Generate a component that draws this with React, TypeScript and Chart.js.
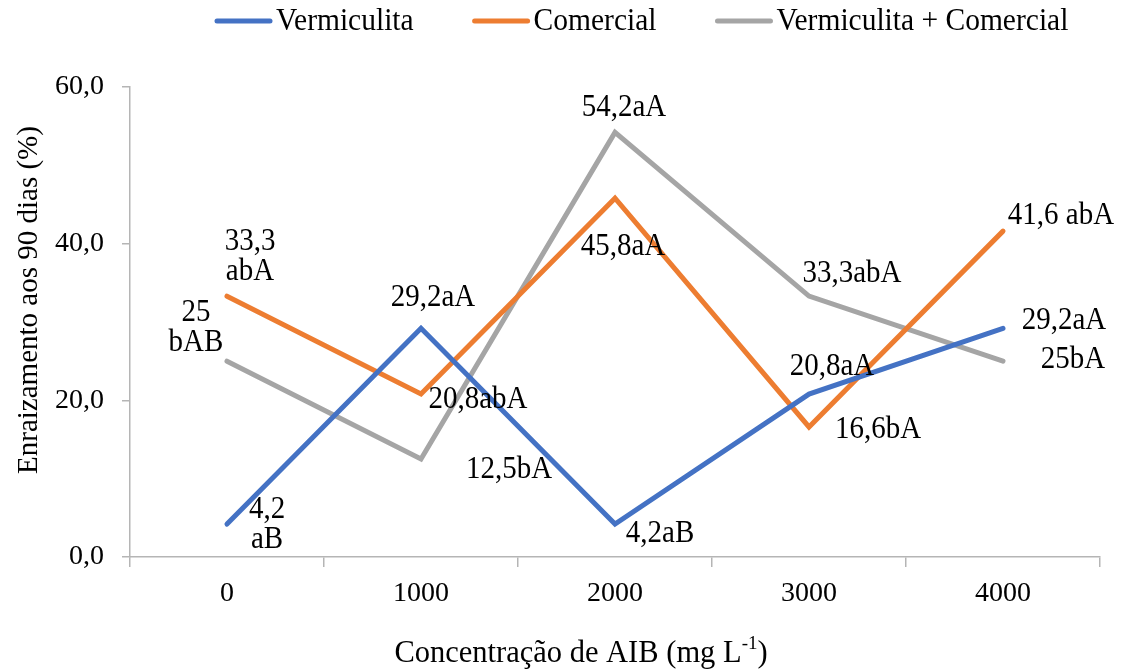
import React, { useEffect, useRef } from "react";
import { Chart, registerables } from "chart.js";

Chart.register(...registerables);

const categories = ["0", "1000", "2000", "3000", "4000"];
const seriesNames = ["Vermiculita", "Comercial", "Vermiculita + Comercial"];
const vermiculita = [4.2, 29.2, 4.2, 20.8, 29.2];
const comercial = [33.3, 20.8, 45.8, 16.6, 41.6];
const vermComercial = [25, 12.5, 54.2, 33.3, 25];
const vermLabels = ["4,2\naB", "29,2aA", "4,2aB", "20,8aA", "29,2aA"];
const comLabels = ["33,3\nabA", "20,8abA", "45,8aA", "16,6bA", "41,6 abA"];
const mixLabels = ["25\nbAB", "12,5bA", "54,2aA", "33,3abA", "25bA"];
const yTicks = [0, 20, 40, 60];
const yTitle = "Enraizamento aos 90 dias (%)";
const xTitleMain = "Concentração de AIB (mg L";
const xTitleSup = "-1";
const xTitleEnd = ")";

const colors = ["#4472C4", "#ED7D31", "#A5A5A5"];
// label block offsets (dx, dy) from the point, styling only
const labelOffsets = [
  [[40, 1], [12, -31], [45, 10], [23, -27], [61, -8]],
  [[23, -40], [57, 6], [8, 48], [69, 3], [58, -16]],
  [[-31, -34], [88, 11], [9, -25], [43, -23], [70, -2]],
];

const FONT = '"Liberation Serif", "Times New Roman", serif';
const FS = 28;
const SY = 1.1; // vertical stretch of drawn text

function drawText(ctx: any, text: string, x: number, y: number, sy: number) {
  ctx.save();
  ctx.translate(x, y);
  ctx.scale(1, sy);
  ctx.fillText(text, 0, 0);
  ctx.restore();
}

const overlayPlugin = {
  id: "overlay",
  afterDatasetsDraw(chart: any) {
    const ctx = chart.ctx;
    ctx.save();
    ctx.fillStyle = "#000";
    ctx.font = `29px ${FONT}`;
    ctx.textAlign = "center";
    ctx.textBaseline = "middle";
    const allLabels = [vermLabels, comLabels, mixLabels];
    chart.data.datasets.forEach((ds: any, di: number) => {
      const meta = chart.getDatasetMeta(di);
      meta.data.forEach((pt: any, i: number) => {
        const lines = allLabels[di][i].split("\n");
        const [dx, dy] = labelOffsets[di][i];
        const lh = 30;
        const startY = pt.y + dy - ((lines.length - 1) * lh) / 2;
        lines.forEach((ln: string, li: number) => {
          drawText(ctx, ln, pt.x + dx, startY + li * lh, SY);
        });
      });
    });
    ctx.restore();
  },
  afterDraw(chart: any) {
    const ctx = chart.ctx;
    ctx.save();
    ctx.fillStyle = "#000";
    // legend
    ctx.font = `29.5px ${FONT}`;
    const lineLen = 57;
    const gapText = 4;
    const gapItem = 59;
    let x = 215;
    const ly = 21;
    ctx.textAlign = "left";
    ctx.textBaseline = "middle";
    seriesNames.forEach((n, i) => {
      const w = ctx.measureText(n).width;
      ctx.strokeStyle = colors[i];
      ctx.lineWidth = 5;
      ctx.lineCap = "round";
      ctx.beginPath();
      ctx.moveTo(x + 2, ly);
      ctx.lineTo(x + lineLen - 2, ly);
      ctx.stroke();
      drawText(ctx, n, x + lineLen + gapText, ly + 1, 1.05);
      x += lineLen + gapText + w + gapItem;
    });
    // y title
    ctx.font = `29px ${FONT}`;
    ctx.save();
    ctx.translate(29, 300);
    ctx.rotate(-Math.PI / 2);
    ctx.textAlign = "center";
    drawText(ctx, yTitle, 0, 0, 1.05);
    ctx.restore();
    // x title with superscript
    const big = `30.5px ${FONT}`;
    const small = `19px ${FONT}`;
    ctx.font = big;
    const wMain = ctx.measureText(xTitleMain).width;
    ctx.font = small;
    const wSup = ctx.measureText(xTitleSup).width;
    ctx.font = big;
    const wEnd = ctx.measureText(xTitleEnd).width;
    const tw = wMain + wSup + wEnd;
    let tx = 581 - tw / 2;
    const ty = 654;
    ctx.textAlign = "left";
    ctx.fillText(xTitleMain, tx, ty);
    tx += wMain;
    ctx.font = small;
    ctx.fillText(xTitleSup, tx, ty - 10);
    tx += wSup;
    ctx.font = big;
    ctx.fillText(xTitleEnd, tx, ty);
    ctx.restore();
  },
};

export default function App() {
  const canvasRef = useRef<HTMLCanvasElement | null>(null);

  useEffect(() => {
    if (!canvasRef.current) return;
    const series = [vermiculita, comercial, vermComercial];
    const chart = new Chart(canvasRef.current, {
      type: "line",
      data: {
        labels: categories,
        datasets: series.map((d, i) => ({
          label: seriesNames[i],
          data: d,
          borderColor: colors[i],
          backgroundColor: colors[i],
          borderWidth: 5,
          borderCapStyle: "round",
          borderJoinStyle: "miter",
          pointRadius: 0,
          pointHoverRadius: 0,
          tension: 0,
          fill: false,
        })),
      },
      options: {
        responsive: false,
        animation: false,
        events: [],
        layout: { padding: { top: 87, right: 29, left: 0, bottom: 0 } },
        plugins: {
          legend: { display: false },
          tooltip: { enabled: false },
          title: { display: false },
        },
        scales: {
          x: {
            type: "category",
            offset: true,
            grid: {
              offset: true,
              drawOnChartArea: false,
              drawTicks: true,
              tickLength: 10,
              color: "#b5b5b5",
              lineWidth: 1.5,
            },
            border: { color: "#b5b5b5", width: 1.5 },
            ticks: {
              color: "#000",
              font: { family: FONT, size: FS },
              padding: 10,
              maxRotation: 0,
            },
            afterFit(scale: any) {
              scale.height = 112;
            },
          },
          y: {
            min: yTicks[0],
            max: yTicks[yTicks.length - 1],
            afterBuildTicks(scale: any) {
              scale.ticks = yTicks.map((v) => ({ value: v }));
            },
            grid: {
              drawOnChartArea: false,
              drawTicks: true,
              tickLength: 8,
              color: "#b5b5b5",
              lineWidth: 1.5,
            },
            border: { color: "#b5b5b5", width: 1.5 },
            ticks: {
              color: "#000",
              font: { family: FONT, size: FS },
              padding: 18,
              callback: (v: any) => Number(v).toFixed(1).replace(".", ","),
            },
            afterFit(scale: any) {
              scale.width = 130;
            },
          },
        },
      },
      plugins: [overlayPlugin],
    });
    return () => chart.destroy();
  }, []);

  return (
    <div style={{ position: "fixed", left: 0, top: 0, width: 1129, height: 669, background: "#fff" }}>
      <canvas ref={canvasRef} width={1129} height={669} />
    </div>
  );
}
